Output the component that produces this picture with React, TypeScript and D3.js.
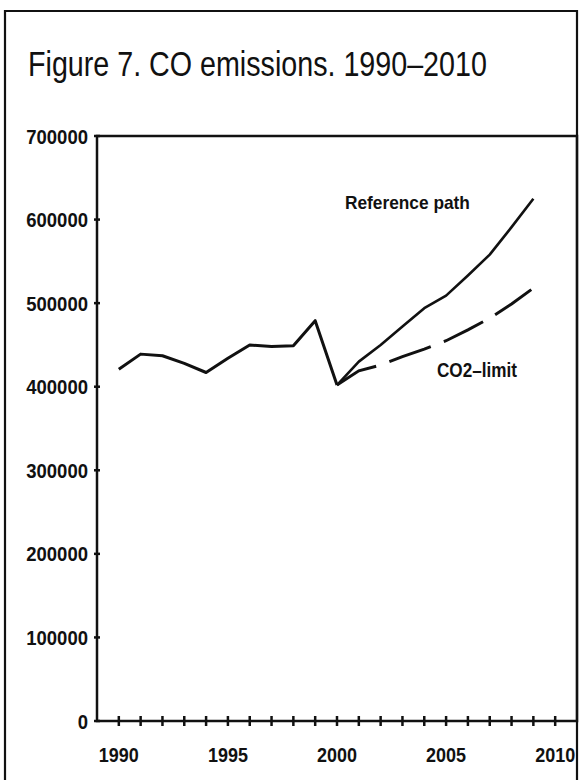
import React, { useEffect, useRef } from "react";
import * as d3 from "d3";

// observed emissions, tonnes
const histYears = [1990, 1991, 1992, 1993, 1994, 1995, 1996, 1997, 1998, 1999, 2000];
const histValues = [421000, 439000, 437000, 428000, 417000, 434000, 450000, 448000, 449000, 479000, 402000];

// projections
const projYears = [2000, 2001, 2002, 2003, 2004, 2005, 2006, 2007, 2008, 2009];
const referencePath = [402000, 430000, 450000, 472000, 494000, 509000, 533000, 558000, 591000, 625000];
const co2Limit = [402000, 419000, 426000, 436000, 445000, 455000, 468000, 482000, 499000, 518000];

const yTicks = [0, 100000, 200000, 300000, 400000, 500000, 600000, 700000];
const xLabelYears = [1990, 1995, 2000, 2005, 2010];
const xTickYears = d3.range(1990, 2011);

const W = 580;
const H = 780;
const FONT = "'Liberation Sans', Arial, sans-serif";
// the original lettering is condensed; squeeze glyphs to this width per digit
const DIGIT_W = 10.3;

// narrow a text horizontally around its own x anchor so it takes `target` px
function squeeze(sel: d3.Selection<any, any, any, any>, target: number | ((d: any) => number)) {
  sel.each(function (d: any) {
    const el = this as SVGTextElement;
    const w = el.getComputedTextLength();
    const t = typeof target === "function" ? target(d) : target;
    const k = w > 0 ? Math.min(1, t / w) : 1;
    const ax = +(el.getAttribute("x") || 0);
    el.setAttribute("transform", `translate(${ax},0) scale(${k},1) translate(${-ax},0)`);
  });
}

export default function App() {
  const ref = useRef<SVGSVGElement>(null);

  useEffect(() => {
    const svg = d3.select(ref.current);
    svg.selectAll("*").remove();

    const x = d3.scaleLinear().domain([1989, 2011]).range([97, 577]);
    const y = d3.scaleLinear().domain([0, 700000]).range([721, 136]);

    // outer frame
    svg.append("path")
      .attr("d", `M5,${H + 5} V11 H577 V${H + 5}`)
      .attr("fill", "none")
      .attr("stroke", "#111")
      .attr("stroke-width", 2.2);

    const title = svg.append("text")
      .attr("x", 28)
      .attr("y", 76)
      .attr("font-family", FONT)
      .attr("font-size", 35)
      .attr("fill", "#111")
      .text("Figure 7. CO emissions. 1990\u20132010");
    squeeze(title, 459);

    // plot box
    svg.append("rect")
      .attr("x", x(1989))
      .attr("y", y(700000))
      .attr("width", x(2011) - x(1989))
      .attr("height", y(0) - y(700000))
      .attr("fill", "none")
      .attr("stroke", "#111")
      .attr("stroke-width", 2.5);

    // y ticks
    const gy = svg.append("g");
    gy.selectAll("line")
      .data(yTicks)
      .join("line")
      .attr("x1", x(1989) - 3)
      .attr("x2", x(1989) + 3)
      .attr("y1", (d) => y(d))
      .attr("y2", (d) => y(d))
      .attr("stroke", "#111")
      .attr("stroke-width", 2.5);
    const yLabels = gy.selectAll("text")
      .data(yTicks)
      .join("text")
      .attr("x", 88)
      .attr("y", (d) => y(d))
      .attr("dy", "0.36em")
      .attr("text-anchor", "end")
      .attr("font-family", FONT)
      .attr("font-weight", "bold")
      .attr("font-size", 21)
      .attr("fill", "#111")
      .text((d) => String(d));
    squeeze(yLabels, (d: number) => String(d).length * DIGIT_W);

    // x ticks
    const gx = svg.append("g");
    gx.selectAll("line")
      .data(xTickYears)
      .join("line")
      .attr("x1", (d) => x(d))
      .attr("x2", (d) => x(d))
      .attr("y1", y(0) - 5)
      .attr("y2", y(0) + 5)
      .attr("stroke", "#111")
      .attr("stroke-width", 2.5);
    const xLabels = gx.selectAll("text")
      .data(xLabelYears)
      .join("text")
      .attr("x", (d) => x(d))
      .attr("y", 762)
      .attr("text-anchor", "middle")
      .attr("font-family", FONT)
      .attr("font-weight", "bold")
      .attr("font-size", 21)
      .attr("fill", "#111")
      .text((d) => String(d));
    squeeze(xLabels, 40);

    const line = d3.line<[number, number]>()
      .x((d) => x(d[0]))
      .y((d) => y(d[1]));

    svg.append("path")
      .datum(histYears.map((yr, i) => [yr, histValues[i]] as [number, number]))
      .attr("d", line)
      .attr("fill", "none")
      .attr("stroke", "#111")
      .attr("stroke-width", 3)
      .attr("stroke-linejoin", "round");

    svg.append("path")
      .datum(projYears.map((yr, i) => [yr, referencePath[i]] as [number, number]))
      .attr("d", line)
      .attr("fill", "none")
      .attr("stroke", "#111")
      .attr("stroke-width", 2.6)
      .attr("stroke-linejoin", "round");

    svg.append("path")
      .datum(projYears.map((yr, i) => [yr, co2Limit[i]] as [number, number]))
      .attr("d", line)
      .attr("fill", "none")
      .attr("stroke", "#111")
      .attr("stroke-width", 3)
      .attr("stroke-dasharray", "44 14");

    const refLabel = svg.append("text")
      .attr("x", 345)
      .attr("y", 209)
      .attr("font-family", FONT)
      .attr("font-weight", "bold")
      .attr("font-size", 19)
      .attr("fill", "#111")
      .text("Reference path");
    squeeze(refLabel, 125);

    const limLabel = svg.append("text")
      .attr("x", 437)
      .attr("y", 377)
      .attr("font-family", FONT)
      .attr("font-weight", "bold")
      .attr("font-size", 20)
      .attr("fill", "#111")
      .text("CO2\u2013limit");
    squeeze(limLabel, 80);
  }, []);

  return (
    <svg
      ref={ref}
      width={W}
      height={H}
      style={{ position: "fixed", left: 0, top: 0, display: "block", background: "#fff" }}
    />
  );
}
